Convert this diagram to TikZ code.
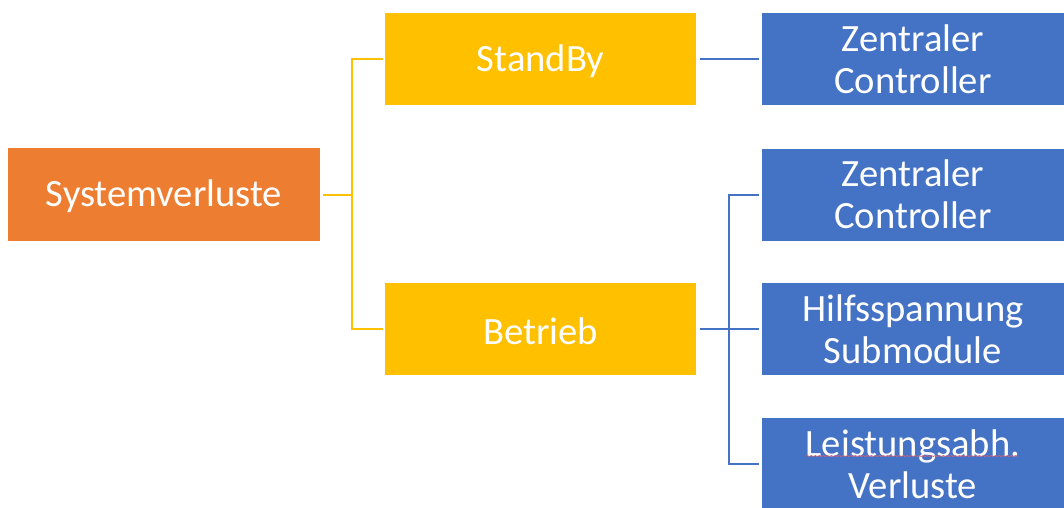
\documentclass[tikz,border=0pt]{standalone}
\usepackage{fontspec}
\setmainfont{Carlito}
\usetikzlibrary{decorations.pathmorphing}
\definecolor{orangeC}{HTML}{ED7D31}
\definecolor{yellowC}{HTML}{FFC000}
\definecolor{blueC}{HTML}{4472C4}
\definecolor{spellC}{HTML}{D9607A}
\newcommand{\lowertext}[1]{\raisebox{-2pt}[\height][\depth]{#1}}
\begin{document}
\begin{tikzpicture}[x=1pt,y=-1pt,
  box/.style={draw=none, inner sep=0pt, align=center, text=white,
    font=\fontsize{38.6}{42}\selectfont, anchor=center},
  orangebox/.style={box, fill=orangeC, minimum width=312pt, minimum height=93pt},
  yellowbox/.style={box, fill=yellowC, minimum width=311pt, minimum height=92pt},
  bluebox/.style={box, fill=blueC, minimum width=302pt, minimum height=92pt},
  yline/.style={draw=yellowC, line width=2pt},
  bline/.style={draw=blueC, line width=2pt}]
\useasboundingbox (0,0) rectangle (1064,507);
\begin{scope}
\clip (0,0) rectangle (1064,507);
\node[orangebox] (sys) at (164,194.5) {\lowertext{Systemverluste}};
\node[yellowbox] (standby) at (540.5,59) {\lowertext{StandBy}};
\node[yellowbox] (betrieb) at (540.5,329) {\lowertext{Betrieb}};
\node[bluebox] (r1) at (913,59) {Zentraler\\Controller};
\node[bluebox] (r2) at (913,194.5) {Zentraler\\Controller};
\node[bluebox] (r3) at (913,329) {Hilfsspannung\\Submodule};
\node[bluebox] (r4) at (913,464) {Leistungsabh.\\Verluste};
\coordinate (j1) at (352,194.5);
\coordinate (j2) at (729,329);
\draw[yline] ([xshift=3pt]sys.east) -- (j1);
\draw[yline] ([xshift=-2pt]standby.west) -| (j1) |- ([xshift=-2pt]betrieb.west);
\draw[bline] ([xshift=4pt]standby.east) -- ([xshift=-3pt]r1.west);
\draw[bline] ([xshift=4pt]betrieb.east) -- (j2);
\draw[bline] ([xshift=-3pt]r2.west) -| (j2) |- ([xshift=-3pt]r4.west);
\draw[bline] (j2) -- ([xshift=-3pt]r3.west);
\draw[spellC, line width=0.7pt, decorate, decoration={snake, amplitude=0.5pt, segment length=4pt}] (806,456) -- (1018,456);
\end{scope}
\end{tikzpicture}
\end{document}
